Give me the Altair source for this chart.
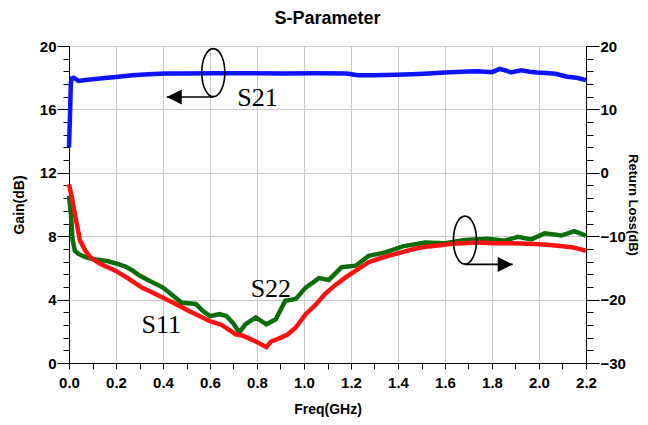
import altair as alt
import pandas as pd

# ---------------- data ----------------
s21_freq = [0.0, 0.004, 0.008, 0.012, 0.02, 0.04, 0.07, 0.13, 0.2, 0.27, 0.34, 0.41, 0.5, 0.63,
            0.75, 0.91, 1.05, 1.18, 1.23, 1.3, 1.39, 1.46, 1.53, 1.60, 1.67, 1.74, 1.80, 1.833,
            1.86, 1.88, 1.925, 1.96, 1.99, 2.03, 2.07, 2.12, 2.16, 2.2]
s21_gain = [13.6, 15.5, 17.7, 17.95, 18.0, 17.8, 17.85, 17.95, 18.05, 18.15, 18.22, 18.27, 18.27,
            18.28, 18.28, 18.27, 18.28, 18.26, 18.15, 18.15, 18.18, 18.22, 18.27, 18.33, 18.38,
            18.4, 18.35, 18.55, 18.45, 18.33, 18.47, 18.38, 18.33, 18.3, 18.25, 18.06, 18.0, 17.85]

s11_freq = [0.0, 0.01, 0.025, 0.047, 0.07, 0.09, 0.13, 0.2, 0.25, 0.31, 0.35, 0.40, 0.45, 0.51,
            0.55, 0.60, 0.65, 0.71, 0.74, 0.77, 0.80, 0.84, 0.86, 0.89, 0.93, 0.965, 1.007, 1.05,
            1.09, 1.13, 1.177, 1.23, 1.275, 1.33, 1.39, 1.45, 1.50, 1.56, 1.63, 1.68, 1.74, 1.80,
            1.88, 1.95, 2.02, 2.08, 2.14, 2.17, 2.2]
s11_rl = [-1.8, -3.5, -6.5, -10.7, -12.3, -13.3, -14.3, -15.5, -16.6, -18.1, -18.8, -19.7, -20.6,
          -21.8, -22.5, -23.4, -24.0, -25.5, -25.7, -26.2, -26.7, -27.5, -26.6, -26.2, -25.5,
          -24.4, -22.3, -20.8, -19.1, -17.8, -16.5, -15.2, -14.1, -13.4, -12.8, -12.2, -11.75,
          -11.5, -11.2, -11.1, -11.0, -11.1, -11.1, -11.2, -11.3, -11.5, -11.75, -12.0, -12.3]

s22_freq = [0.0, 0.008, 0.015, 0.025, 0.04, 0.07, 0.10, 0.16, 0.2, 0.24, 0.27, 0.30, 0.34, 0.40,
            0.44, 0.48, 0.54, 0.57, 0.60, 0.64, 0.67, 0.70, 0.725, 0.75, 0.795, 0.84, 0.88, 0.92,
            0.965, 1.007, 1.064, 1.106, 1.16, 1.22, 1.275, 1.346, 1.42, 1.516, 1.60, 1.685, 1.78,
            1.855, 1.91, 1.967, 2.024, 2.095, 2.15, 2.2]
s22_rl = [-3.6, -6.5, -10.5, -12.3, -12.8, -13.3, -13.6, -13.9, -14.3, -14.8, -15.4, -16.2, -17.0,
          -18.1, -19.3, -20.5, -20.7, -21.8, -22.6, -22.3, -22.6, -23.8, -25.2, -23.9, -22.8,
          -23.9, -23.1, -20.2, -19.9, -18.1, -16.6, -16.9, -14.9, -14.65, -13.1, -12.55, -11.6,
          -11.0, -11.1, -10.6, -10.4, -10.7, -10.1, -10.5, -9.55, -9.9, -9.2, -9.9]

# annotations (gain-axis units)
ell_freq = [0.614, 1.685]
ell_gain = [18.32, 7.75]
arrow_start = [0.614, 1.685]
arrow_end = [0.416, 1.888]
arrow_gain = [16.78, 6.22]
arrow_dir = ["left", "right"]
lab_text = ["S21", "S22", "S11"]
lab_freq = [0.716, 0.773, 0.309]
lab_gain = [16.19, 4.18, 1.91]

x_major = [0.0, 0.2, 0.4, 0.6, 0.8, 1.0, 1.2, 1.4, 1.6, 1.8, 2.0, 2.2]
x_minor = [0.1, 0.3, 0.5, 0.7, 0.9, 1.1, 1.3, 1.5, 1.7, 1.9, 2.1]
g_major = [0, 4, 8, 12, 16, 20]
g_minor = [0.8, 1.6, 2.4, 3.2, 4.8, 5.6, 6.4, 7.2, 8.8, 9.6, 10.4, 11.2,
           12.8, 13.6, 14.4, 15.2, 16.8, 17.6, 18.4, 19.2]
rl_major = [-30, -20, -10, 0, 10, 20]

# ---------------- build ----------------
FONT = "Liberation Sans"
xs = alt.Scale(domain=[0, 2.2], nice=False, zero=False)
gs = alt.Scale(domain=[0, 20], nice=False, zero=False)
rs = alt.Scale(domain=[-30, 20], nice=False, zero=False)

df21 = pd.DataFrame({"f": s21_freq, "v": s21_gain})
dfrl = pd.concat([
    pd.DataFrame({"f": s22_freq, "v": s22_rl, "s": "S22", "o": 0}),
    pd.DataFrame({"f": s11_freq, "v": s11_rl, "s": "S11", "o": 1}),
])
df_ell = pd.DataFrame({"f": ell_freq, "g": ell_gain})
df_arr = pd.DataFrame({"f": arrow_start, "f2": arrow_end, "g": arrow_gain, "d": arrow_dir})
df_lab = pd.DataFrame({"t": lab_text, "f": lab_freq, "g": lab_gain})

common_lab = dict(labelFont=FONT, labelFontSize=15, labelFontWeight="bold", labelColor="black",
                  titleFont=FONT, titleFontSize=14, titleFontWeight="bold", titleColor="black",
                  domainColor="black", tickColor="black", labelFlush=False, labelOverlap=False)

x_main_axis = alt.Axis(orient="bottom", values=x_major, format=".1f", tickSize=6, labelPadding=6,
                       grid=True, gridColor="#c8c8c8", gridWidth=1, title="Freq(GHz)",
                       titlePadding=12, **common_lab)
y_left_axis = alt.Axis(orient="left", values=g_major, format="d", tickSize=12, labelPadding=1,
                       grid=True, gridColor="#c8c8c8", gridWidth=1, title="Gain(dB)",
                       titlePadding=13, **common_lab)
right_lab = dict(common_lab)
right_lab["titleFontSize"] = 13
y_right_axis = alt.Axis(orient="right", values=rl_major, format="d", tickSize=13, labelPadding=1,
                        grid=False, title="Return Loss(dB)", titlePadding=0, **right_lab)

s21_layer = alt.Chart(df21).mark_line(color="#0a14ff", strokeWidth=4.5).encode(
    x=alt.X("f:Q", scale=xs, axis=x_main_axis),
    y=alt.Y("v:Q", scale=gs, axis=y_left_axis),
)

rl_layer = alt.Chart(dfrl).mark_line(strokeWidth=4.5).encode(
    x=alt.X("f:Q", scale=xs, axis=None),
    y=alt.Y("v:Q", scale=rs, axis=y_right_axis),
    color=alt.Color("s:N", scale=alt.Scale(domain=["S11", "S22"], range=["#ff1010", "#0a6e0a"]),
                    legend=None),
    order=alt.Order("o:Q"),
    detail="s:N",
)

ELL = ("M0,-1C0.265,-1,0.48,-0.552,0.48,0C0.48,0.552,0.265,1,0,1"
       "C-0.265,1,-0.48,0.552,-0.48,0C-0.48,-0.552,-0.265,-1,0,-1Z")
ell_layer = alt.Chart(df_ell).mark_point(shape=ELL, size=2304, filled=False, stroke="black",
                                         strokeWidth=1.6, opacity=1).encode(
    x=alt.X("f:Q", scale=xs, axis=alt.Axis(orient="bottom", values=x_minor, tickSize=6,
                                           labels=False, grid=False, domain=False, title=None,
                                           tickColor="black")),
    y=alt.Y("g:Q", scale=gs, axis=alt.Axis(orient="left", values=g_minor, tickSize=6,
                                           labels=False, grid=False, domain=False, title=None,
                                           tickColor="black")),
)

arrow_layer = alt.Chart(df_arr).mark_rule(color="black", strokeWidth=1.6).encode(
    x=alt.X("f:Q", scale=xs, axis=None),
    x2="f2:Q",
    y=alt.Y("g:Q", scale=gs, axis=alt.Axis(orient="right", values=g_minor, tickSize=7,
                                           labels=False, grid=False, domain=False, title=None,
                                           tickColor="black")),
)

head_layer = alt.Chart(df_arr).mark_point(filled=True, opacity=1, size=225, color="black").encode(
    x=alt.X("f2:Q", scale=xs, axis=None),
    y=alt.Y("g:Q", scale=gs, axis=None),
    shape=alt.Shape("d:N", scale=alt.Scale(domain=["left", "right"],
                                           range=["M0,0L2,-1L2,1Z", "M0,0L-2,-1L-2,1Z"]),
                    legend=None),
)

text_layer = alt.Chart(df_lab).mark_text(font="Liberation Serif", fontSize=26, align="left",
                                         baseline="alphabetic", color="black").encode(
    x=alt.X("f:Q", scale=xs, axis=None),
    y=alt.Y("g:Q", scale=gs, axis=None),
    text="t:N",
)

chart = alt.layer(
    s21_layer, rl_layer, ell_layer, arrow_layer, head_layer, text_layer
).resolve_scale(
    x="independent", y="independent", color="independent", shape="independent"
).properties(
    width=517, height=317,
    autosize=alt.AutoSizeParams(type="none"),
    padding={"left": 61, "top": 38, "right": 54, "bottom": 54},
    title=alt.TitleParams("S-Parameter", font=FONT, fontSize=18, fontWeight="bold",
                          color="black", anchor="middle", offset=11),
).configure_view(stroke="black", strokeWidth=1)

chart.save("out.html", embed_options={"renderer": "svg", "actions": False})
